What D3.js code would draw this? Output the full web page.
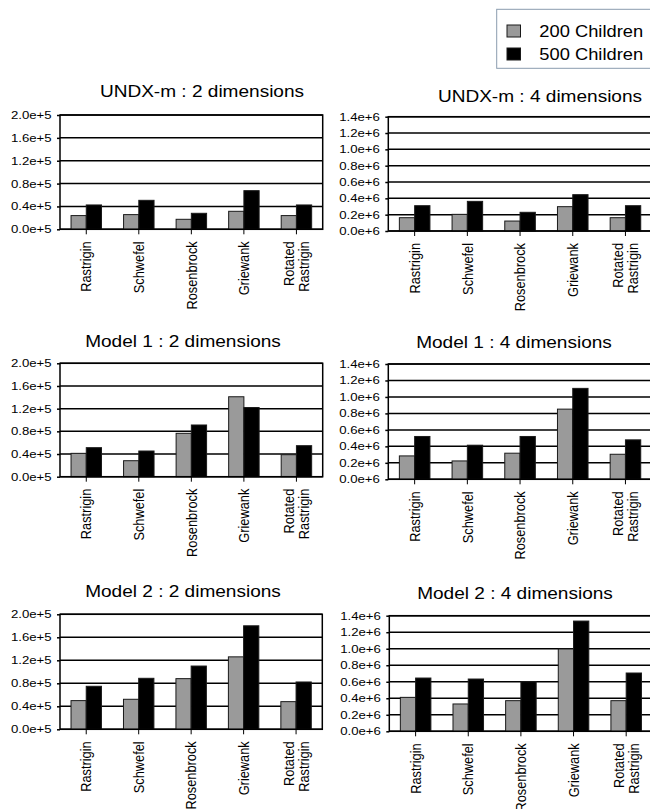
<!DOCTYPE html>
<html><head><meta charset="utf-8">
<script src="https://cdn.jsdelivr.net/npm/d3@7"></script>
<style>
html,body{margin:0;padding:0;background:#fff;}
svg{display:block;font-family:"Liberation Sans",Arial,Helvetica,sans-serif;}
</style></head>
<body><svg id="chart" width="650" height="809"></svg>
<script>
// ---------------- DATA ----------------
const categories = ["Rastrigin", "Schwefel", "Rosenbrock", "Griewank", "Rotated Rastrigin"];
const seriesNames = ["200 Children", "500 Children"];

const titles = ["UNDX-m : 2 dimensions", "UNDX-m : 4 dimensions",
                "Model 1 : 2 dimensions", "Model 1 : 4 dimensions",
                "Model 2 : 2 dimensions", "Model 2 : 4 dimensions"];

const undx2_200 = [24000, 25700, 17500, 31500, 24000];
const undx2_500 = [42600, 50700, 28000, 67600, 42600];
const undx4_200 = [163000, 204000, 122000, 298000, 163000];
const undx4_500 = [310000, 363000, 229000, 445000, 310000];
const model1d2_200 = [41200, 28200, 76500, 141000, 38800];
const model1d2_500 = [51200, 45300, 91200, 122000, 54700];
const model1d4_200 = [284000, 223000, 317000, 852000, 304000];
const model1d4_500 = [520000, 414000, 520000, 1104000, 479000];
const model2d2_200 = [49900, 52200, 88100, 126000, 48100];
const model2d2_500 = [74800, 88700, 110000, 180000, 82300];
const model2d4_200 = [411000, 331000, 371000, 997000, 371000];
const model2d4_500 = [645000, 633000, 601000, 1335000, 706000];

const ticks2d = [0, 40000, 80000, 120000, 160000, 200000];
const tickLabels2d = ["0.0e+5", "0.4e+5", "0.8e+5", "1.2e+5", "1.6e+5", "2.0e+5"];
const ticks4d = [0, 200000, 400000, 600000, 800000, 1000000, 1200000, 1400000];
const tickLabels4d = ["0.0e+6", "0.2e+6", "0.4e+6", "0.6e+6", "0.8e+6", "1.0e+6", "1.2e+6", "1.4e+6"];

// ---------------- LAYOUT / STYLE ----------------
const colors = ["#9a9a9a", "#000000"];
const layout = [
  {x0: 60,    x1: 322.7, y0: 115,   y1: 229.3, tx: 202, ty: 97},
  {x0: 388.3, x1: 651.8, y0: 116.7, y1: 231,   tx: 540, ty: 102.3},
  {x0: 60,    x1: 322.7, y0: 363.3, y1: 476.7, tx: 183, ty: 346.7},
  {x0: 388.3, x1: 651.8, y0: 364,   y1: 479.3, tx: 514, ty: 348.3},
  {x0: 60,    x1: 322.3, y0: 614.3, y1: 729.3, tx: 183, ty: 596.7},
  {x0: 389.3, x1: 652.5, y0: 615.7, y1: 731.3, tx: 515, ty: 599}
];

const panelData = [
  [undx2_200, undx2_500, ticks2d, tickLabels2d],
  [undx4_200, undx4_500, ticks4d, tickLabels4d],
  [model1d2_200, model1d2_500, ticks2d, tickLabels2d],
  [model1d4_200, model1d4_500, ticks4d, tickLabels4d],
  [model2d2_200, model2d2_500, ticks2d, tickLabels2d],
  [model2d4_200, model2d4_500, ticks4d, tickLabels4d]
];

const svg = d3.select("#chart");
const color = d3.scaleOrdinal().domain(seriesNames).range(colors);

panelData.forEach((pd, i) => {
  const L = layout[i];
  const [s1, s2, tv, tl] = pd;
  const w = L.x1 - L.x0, h = L.y1 - L.y0;
  const g = svg.append("g").attr("transform", `translate(${L.x0},${L.y0})`);

  const x = d3.scaleBand().domain(categories).range([0, w]).paddingInner(0.42).paddingOuter(0.21);
  const xs = d3.scaleBand().domain(seriesNames).range([0, x.bandwidth()]);
  const y = d3.scaleLinear().domain([tv[0], tv[tv.length - 1]]).range([h, 0]);

  // gridlines
  g.append("g").selectAll("line").data(tv).join("line")
    .attr("x1", 0).attr("x2", w)
    .attr("y1", d => y(d)).attr("y2", d => y(d))
    .attr("stroke", "#000").attr("stroke-width", 1.5);

  // bars
  const rows = categories.map((c, k) => ({cat: c, vals: [s1[k], s2[k]]}));
  const grp = g.append("g").selectAll("g").data(rows).join("g")
    .attr("transform", d => `translate(${x(d.cat)},0)`);
  grp.selectAll("rect").data(d => d.vals.map((v, j) => ({s: seriesNames[j], v})))
    .join("rect")
    .attr("x", d => xs(d.s)).attr("width", xs.bandwidth())
    .attr("y", d => y(d.v)).attr("height", d => h - y(d.v))
    .attr("fill", d => color(d.s))
    .attr("stroke", "#1a1a1a").attr("stroke-width", 1);

  // frame
  g.append("rect").attr("x", 0).attr("y", 0).attr("width", w).attr("height", h)
    .attr("fill", "none").attr("stroke", "#000").attr("stroke-width", 1.5);

  // y axis
  const ya = g.append("g").call(
    d3.axisLeft(y).tickValues(tv).tickFormat((d, k) => tl[k]).tickSize(3).tickPadding(4)
  );
  ya.attr("font-family", null);
  ya.select(".domain").remove();
  ya.selectAll("line").attr("stroke", "#000").attr("stroke-width", 1.5);
  ya.selectAll("text").attr("font-size", 11).attr("fill", "#000")
    .each(function () {
      const t = d3.select(this);
      const xx = +t.attr("x");
      t.attr("x", 0).attr("transform", `translate(${xx * 1.2},0) scale(1.2,1)`);
    });

  // x axis
  const xa = g.append("g").attr("transform", `translate(0,${h})`)
    .call(d3.axisBottom(x).tickSize(5).tickFormat(""));
  xa.select(".domain").remove();
  xa.selectAll("line").attr("stroke", "#000").attr("stroke-width", 1);

  const lbl = g.append("g").selectAll("text").data(categories).join("text")
    .attr("transform", d => `translate(${x(d) + x.bandwidth() / 2},${h + 12}) scale(1.15,1) rotate(-90)`)
    .attr("text-anchor", "end")
    .attr("font-size", 12.8)
    .attr("fill", "#000");
  lbl.each(function (d) {
    const parts = d.split(" ");
    const t = d3.select(this);
    const n = parts.length;
    parts.forEach((p, k) => {
      t.append("tspan").attr("x", 0)
        .attr("dy", k === 0 ? `${0.35 - (n - 1) * 0.52}em` : "1.04em")
        .text(p);
    });
  });

  // title
  svg.append("text")
    .attr("transform", `translate(${L.tx},${L.ty}) scale(1.19,1)`)
    .attr("text-anchor", "middle")
    .attr("font-size", 16)
    .attr("fill", "#000")
    .text(titles[i]);
});

// ---------------- LEGEND ----------------
const lg = svg.append("g");
lg.append("rect").attr("x", 496.7).attr("y", 9.3).attr("width", 160).attr("height", 59)
  .attr("fill", "#fff").attr("stroke", "#8a9cae").attr("stroke-width", 1);
const legY = d3.scalePoint().domain(seriesNames).range([31, 54]);
seriesNames.forEach(s => {
  lg.append("rect").attr("x", 507).attr("y", legY(s) - 6).attr("width", 13.5).attr("height", 12)
    .attr("fill", color(s)).attr("stroke", "#1a1a1a").attr("stroke-width", 1);
  lg.append("text")
    .attr("transform", `translate(539.3,${legY(s) + 5.8}) scale(1.145,1)`)
    .attr("font-size", 16).attr("fill", "#000").text(s);
});
</script>
</body></html>
